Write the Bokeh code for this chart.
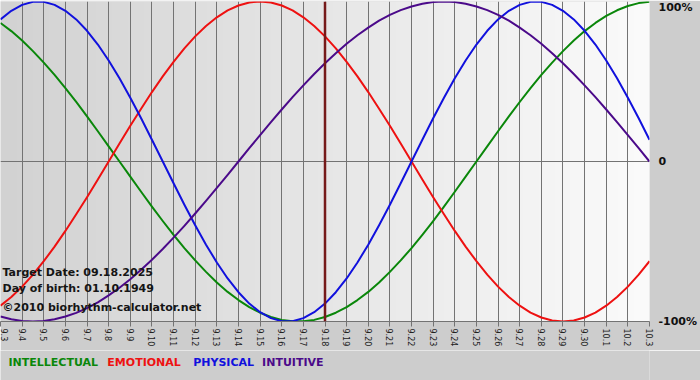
import math
import numpy as np
from bokeh.plotting import figure
from bokeh.layouts import column
from bokeh.models import Range1d, FixedTicker, Span, Label
from bokeh.core.properties import value
from bokeh.embed import file_html
from bokeh.resources import INLINE

# ---- data ----
tick_labels = ["9.%d" % d for d in range(3, 31)] + ["10.1", "10.2", "10.3"]
# curve values sampled every half day, from 9.3 to 10.3
day_pos = [j / 2 for j in range(61)]
intellectual = [0.866, 0.815, 0.756, 0.690, 0.618, 0.541, 0.458, 0.372, 0.282, 0.189, 0.095, 0.0,
                -0.095, -0.189, -0.282, -0.372, -0.458, -0.541, -0.618, -0.690, -0.756, -0.815,
                -0.866, -0.910, -0.945, -0.972, -0.990, -0.999, -0.999, -0.990, -0.972, -0.945,
                -0.910, -0.866, -0.815, -0.756, -0.690, -0.618, -0.541, -0.458, -0.372, -0.282,
                -0.189, -0.095, 0.0,
                0.095, 0.189, 0.282, 0.372, 0.458, 0.541, 0.618, 0.690, 0.756, 0.815, 0.866,
                0.910, 0.945, 0.972, 0.990, 0.999]
emotional = [-0.901, -0.847, -0.782, -0.707, -0.623, -0.532, -0.434, -0.330, -0.223, -0.112, 0.0,
             0.112, 0.223, 0.330, 0.434, 0.532, 0.623, 0.707, 0.782, 0.847, 0.901, 0.944, 0.975,
             0.994, 1.0, 0.994, 0.975, 0.944, 0.901, 0.847, 0.782, 0.707, 0.623, 0.532, 0.434,
             0.330, 0.223, 0.112, 0.0,
             -0.112, -0.223, -0.330, -0.434, -0.532, -0.623, -0.707, -0.782, -0.847, -0.901,
             -0.944, -0.975, -0.994, -1.0, -0.994, -0.975, -0.944, -0.901, -0.847, -0.782,
             -0.707, -0.623]
physical = [0.888, 0.942, 0.979, 0.998, 0.998, 0.979, 0.942, 0.888, 0.817, 0.731, 0.631, 0.520,
            0.398, 0.270, 0.136, 0.0,
            -0.136, -0.270, -0.398, -0.520, -0.631, -0.731, -0.817, -0.888, -0.942, -0.979,
            -0.998, -0.998, -0.979, -0.942, -0.888, -0.817, -0.731, -0.631, -0.520, -0.398,
            -0.270, -0.136, 0.0,
            0.136, 0.270, 0.398, 0.520, 0.631, 0.731, 0.817, 0.888, 0.942, 0.979, 0.998,
            0.998, 0.979, 0.942, 0.888, 0.817, 0.731, 0.631, 0.520, 0.398, 0.270, 0.136]
intuitive = [-0.969, -0.986, -0.997, -1.0, -0.997, -0.986, -0.969, -0.946, -0.916, -0.880,
             -0.837, -0.789, -0.736, -0.677, -0.614, -0.547, -0.476, -0.402, -0.325, -0.246,
             -0.165, -0.083, 0.0,
             0.083, 0.165, 0.246, 0.325, 0.402, 0.476, 0.547, 0.614, 0.677, 0.736, 0.789,
             0.837, 0.880, 0.916, 0.946, 0.969, 0.986, 0.997, 1.0,
             0.997, 0.986, 0.969, 0.946, 0.916, 0.880, 0.837, 0.789, 0.736, 0.677, 0.614,
             0.547, 0.476, 0.402, 0.325, 0.246, 0.165, 0.083, 0.0]
series_names = ["INTELLECTUAL", "EMOTIONAL", "PHYSICAL", "INTUITIVE"]
series_values = [intellectual, emotional, physical, intuitive]
target_label = "9.18"
info_lines = ["Target Date: 09.18.2025", "Day of birth: 01.10.1949", "\u00a92010 biorhythm-calculator.net"]
y_tick_values = [-1, 0, 1]
y_tick_labels = ["-100%", "0", "100%"]

# ---- styles ----
series_colors = ["#0a870a", "#ee1111", "#1111dd", "#4b0a8a"]
legend_x = [8, 107, 193, 262]
FONT = "DejaVu Sans"
OUTER = "#cdcdcd"

x_idx = list(range(len(tick_labels)))
x0, x1 = x_idx[0], x_idx[-1]

p = figure(width=700, height=350, output_backend="svg", toolbar_location=None,
           x_range=Range1d(x0, x1), y_range=Range1d(-1, 1),
           y_axis_location="right",
           min_border_left=0, min_border_right=50, min_border_top=1, min_border_bottom=29)
p.outline_line_color = None
p.border_fill_color = OUTER
p.background_fill_color = "#e4e4e4"

# gradient background of the plotting area
n = 650
g = np.linspace(210, 251, n).astype(np.uint8)
img = np.zeros((1, n), dtype=np.uint32)
view = img.view(dtype=np.uint8).reshape((1, n, 4))
view[0, :, 0] = g
view[0, :, 1] = g
view[0, :, 2] = g
view[0, :, 3] = 255
p.image_rgba(image=[img], x=x0, y=-1, dw=x1 - x0, dh=2, level="image")

# grid
p.xgrid.ticker = FixedTicker(ticks=x_idx)
p.xgrid.grid_line_color = "#737373"
p.xgrid.grid_line_alpha = 1
p.xgrid.grid_line_width = 1
p.ygrid.ticker = FixedTicker(ticks=[0])
p.ygrid.grid_line_color = "#737373"
p.ygrid.grid_line_width = 1

# x axis
xa = p.xaxis[0]
xa.ticker = FixedTicker(ticks=x_idx)
xa.major_label_overrides = {i: lab for i, lab in zip(x_idx, tick_labels)}
xa.major_label_orientation = -math.pi / 2
xa.major_label_text_font = FONT
xa.major_label_text_font_size = "8px"
xa.major_label_text_color = "#222222"
xa.major_label_standoff = 2
xa.major_tick_in = 0
xa.major_tick_out = 5
xa.major_tick_line_color = "#737373"
xa.minor_tick_line_color = None
xa.axis_line_color = "#737373"

# y axis (right)
ya = p.yaxis[0]
ya.ticker = FixedTicker(ticks=y_tick_values)
ya.major_label_overrides = {v: lab for v, lab in zip(y_tick_values, y_tick_labels)}
ya.major_label_text_font = FONT
ya.major_label_text_font_style = "bold"
ya.major_label_text_font_size = "11px"
ya.major_label_text_color = "#111111"
ya.major_label_standoff = 9
ya.major_tick_in = 0
ya.major_tick_out = 0
ya.major_tick_line_color = None
ya.minor_tick_line_color = None
ya.axis_line_color = None

# series
for vals, col in zip(series_values, series_colors):
    p.line(day_pos, vals, line_color=col, line_width=2, line_join="round")

# target day line
p.add_layout(Span(location=tick_labels.index(target_label), dimension="height",
                  line_color="#761a1a", line_width=2.5))

# info text inside plot
for txt, yy in zip(info_lines, [49, 33, 14]):
    p.add_layout(Label(x=2, y=yy, x_units="screen", y_units="screen", text=txt,
                       text_font=FONT, text_font_style="bold", text_font_size="11px",
                       text_color="#151515", text_baseline="middle"))

# coloured legend strip below the chart (pixel-scaled ranges, frame 650 x 30)
leg = figure(width=700, height=30, output_backend="svg", toolbar_location=None,
             x_range=Range1d(0, 650), y_range=Range1d(0, 30),
             x_axis_type=None, y_axis_type=None,
             min_border_left=0, min_border_right=50, min_border_top=0, min_border_bottom=0)
leg.outline_line_color = None
leg.border_fill_color = OUTER
leg.background_fill_color = OUTER
leg.xgrid.visible = False
leg.ygrid.visible = False
leg.text(x=legend_x, y=[18] * len(series_names), text=series_names,
         text_color=series_colors, text_font=value(FONT), text_font_style="bold",
         text_font_size="11px", text_baseline="middle", text_align="left")

layout = column(p, leg, spacing=0)
open("out.html", "w").write(file_html(layout, INLINE))
